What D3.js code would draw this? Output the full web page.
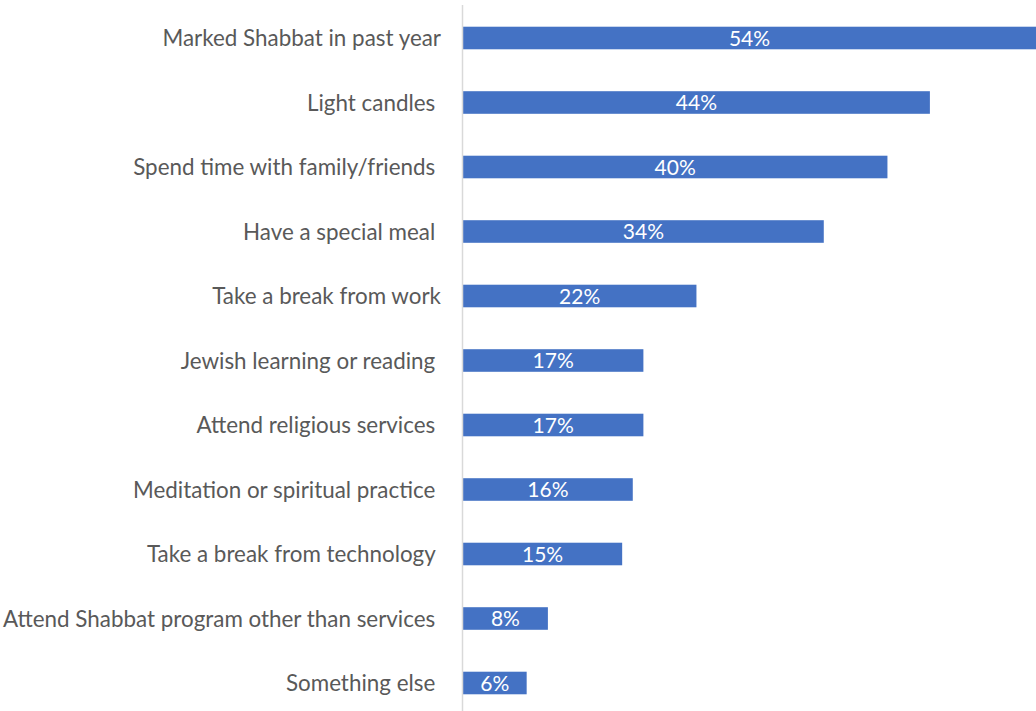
<!DOCTYPE html>
<html>
<head>
<meta charset="utf-8">
<script src="https://cdn.jsdelivr.net/npm/d3@7"></script>
<style>
  html, body { margin: 0; padding: 0; background: #ffffff; }
  svg { display: block; }
  .cat { white-space: pre; }
</style>
</head>
<body>
<svg id="chart" width="1036" height="711"></svg>
<script>
// Shabbat activities in the past year (share of respondents, %)
const categories = [
  "Marked Shabbat in past year",
  "Light candles ",
  "Spend time with family/friends ",
  "Have a special meal ",
  "Take a break from work",
  "Jewish learning or reading ",
  "Attend religious services ",
  "Meditation or spiritual practice ",
  "Take a break from technology ",
  "Attend Shabbat program other than services ",
  "Something else "
];
const values = [54, 44, 40, 34, 22, 17, 17, 16, 15, 8, 6];

const W = 1036, H = 711;
const svg = d3.select("#chart");
const font = "'Lato', 'Open Sans', sans-serif";

const x = d3.scaleLinear().domain([0, 54]).range([463, 1036]);
const y = d3.scaleBand()
  .domain(categories)
  .range([5.75, 715.25])
  .paddingInner(0.65)
  .paddingOuter(0.325);

// bars
svg.append("g").selectAll("rect")
  .data(categories)
  .join("rect")
  .attr("x", x(0))
  .attr("y", d => y(d))
  .attr("width", (d, i) => x(values[i]) - x(0))
  .attr("height", y.bandwidth())
  .attr("fill", "#4472C4");

// category axis line
svg.append("line")
  .attr("x1", 462.5).attr("x2", 462.5)
  .attr("y1", 5).attr("y2", H)
  .attr("stroke", "#d9d9d9")
  .attr("stroke-width", 1.5);

// category labels
svg.append("g").selectAll("text")
  .data(categories)
  .join("text")
  .attr("class", "cat")
  .attr("x", 441)
  .attr("y", d => y(d) + y.bandwidth() / 2)
  .attr("dy", "0.36em")
  .attr("text-anchor", "end")
  .attr("font-family", font)
  .attr("font-size", 22.4)
  .attr("fill", "#595959")
  .text(d => d);

// value labels centred in each bar
svg.append("g").selectAll("text")
  .data(categories)
  .join("text")
  .attr("x", (d, i) => (x(0) + x(values[i])) / 2)
  .attr("y", d => y(d) + y.bandwidth() / 2)
  .attr("dy", "0.36em")
  .attr("text-anchor", "middle")
  .attr("font-family", font)
  .attr("font-size", 21)
  .attr("fill", "#ffffff")
  .text((d, i) => values[i] + "%");
</script>
</body>
</html>
